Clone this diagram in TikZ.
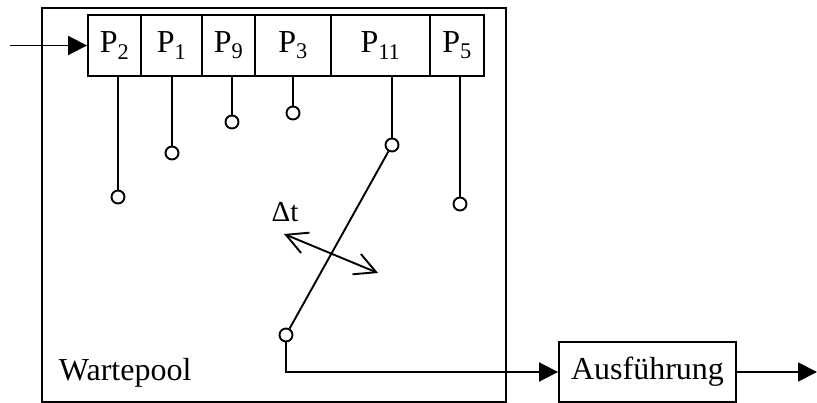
\documentclass[tikz,border=0pt]{standalone}
\usepackage{fontspec}
\setmainfont{Liberation Serif}
\usetikzlibrary{arrows.meta}
\begin{document}
\begin{tikzpicture}[x=1pt,y=-1pt,line width=1.9pt,
  txt/.style={font=\fontsize{32}{36}\selectfont},
  cell/.style={draw,txt,minimum height=61pt,inner sep=0pt},
  knob/.style={circle,draw,minimum size=13pt,inner sep=0pt},
  box/.style={draw,txt,minimum width=177pt,minimum height=60pt,inner sep=0pt},
  lbl/.style={txt,inner sep=0pt},
  fill tip/.style={-{Triangle[length=19pt,width=19pt]}},
  barb/.style={{Straight Barb[length=21pt,width=22pt]}-{Straight Barb[length=21pt,width=22pt]}}]
\useasboundingbox (0,0) rectangle (817,403);
% waiting pool
\node[draw,minimum width=464pt,minimum height=394pt,inner sep=0pt] (pool) at (274,205) {};
\node[lbl,anchor=base west] (wlbl) at (58,381) {Wartepool};
% queue cells
\node[cell,minimum width=53pt] (p2) at (114.5,45.5) {P\textsubscript{2}};
\node[cell,minimum width=61pt] (p1) at (171.5,45.5) {P\textsubscript{1}};
\node[cell,minimum width=53pt] (p9) at (228.5,45.5) {P\textsubscript{9}};
\node[cell,minimum width=76pt] (p3) at (293,45.5) {P\textsubscript{3}};
\node[cell,minimum width=99pt] (p11) at (380.5,45.5) {P\textsubscript{11}};
\node[cell,minimum width=54pt] (p5) at (457,45.5) {P\textsubscript{5}};
% knobs
\node[knob] (c2) at (118,197) {};
\node[knob] (c1) at (172,153) {};
\node[knob] (c9) at (232,122) {};
\node[knob] (c3) at (293,113) {};
\node[knob] (c11) at (392,145) {};
\node[knob] (c5) at (460,204) {};
\node[knob] (c0) at (286,335) {};
\draw (p2.south -| c2) -- (c2);
\draw (p1.south -| c1) -- (c1);
\draw (p9.south -| c9) -- (c9);
\draw (p3.south -| c3) -- (c3);
\draw (p11.south -| c11) -- (c11);
\draw (p5.south -| c5) -- (c5);
\draw (c11) -- (c0);
% delta t
\node[inner sep=0pt,font=\fontsize{29}{32}\selectfont] (dt) at (285,212) {Δt};
\coordinate (d1) at (284,234);
\coordinate (d2) at (378,273);
\draw[barb] (d1) -- (d2);
% input
\coordinate (in) at (10,45.5);
\draw[fill tip] (in) -- (p2.west);
% execution
\node[box] (ex) at (647.5,372) {Ausführung};
\draw[fill tip] (c0) |- (ex.west);
\coordinate (out) at (817,372);
\draw[fill tip] (ex.east) -- (out);
\end{tikzpicture}
\end{document}
